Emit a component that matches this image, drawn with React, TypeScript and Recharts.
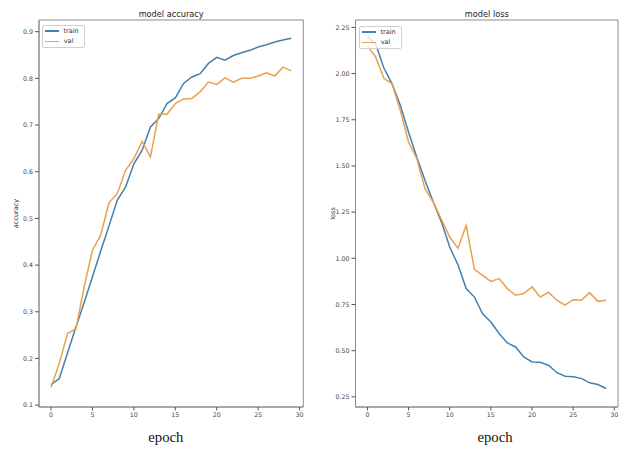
import { LineChart, Line, XAxis, YAxis, Legend, ReferenceArea } from "recharts";

// epochs 0..29
const epochs = [
  0, 1, 2, 3, 4, 5, 6, 7, 8, 9, 10, 11, 12, 13, 14, 15, 16, 17, 18, 19, 20, 21,
  22, 23, 24, 25, 26, 27, 28, 29,
];

const accTrain = [
  0.144, 0.157, 0.212, 0.267, 0.32, 0.375, 0.43, 0.484, 0.539, 0.567, 0.617,
  0.646, 0.696, 0.714, 0.746, 0.758, 0.789, 0.803, 0.81, 0.832, 0.845, 0.839,
  0.849, 0.855, 0.86, 0.867, 0.872, 0.878, 0.882, 0.886,
];
const accVal = [
  0.138, 0.19, 0.254, 0.263, 0.353, 0.432, 0.464, 0.534, 0.553, 0.603, 0.628,
  0.665, 0.632, 0.723, 0.723, 0.746, 0.756, 0.757, 0.771, 0.792, 0.787, 0.801,
  0.792, 0.8, 0.8, 0.805, 0.812, 0.805, 0.824, 0.816,
];

const lossTrain = [
  2.2, 2.16, 2.03, 1.944, 1.827, 1.682, 1.547, 1.421, 1.304, 1.196, 1.061,
  0.965, 0.836, 0.79, 0.7, 0.655, 0.593, 0.542, 0.52, 0.466, 0.439, 0.437,
  0.421, 0.382, 0.362, 0.359, 0.35, 0.326, 0.317, 0.295,
];
const lossVal = [
  2.15, 2.09, 1.975, 1.944, 1.8, 1.628, 1.539, 1.376, 1.304, 1.21, 1.115,
  1.055, 1.178, 0.94, 0.908, 0.875, 0.89, 0.836, 0.8, 0.809, 0.845, 0.79,
  0.816, 0.773, 0.746, 0.776, 0.773, 0.814, 0.767, 0.773,
];

const xTicks = [0, 5, 10, 15, 20, 25, 30];
const accTicks = [0.1, 0.2, 0.3, 0.4, 0.5, 0.6, 0.7, 0.8, 0.9];
const lossTicks = [0.25, 0.5, 0.75, 1.0, 1.25, 1.5, 1.75, 2.0, 2.25];

const accData = epochs.map((e, i) => ({ epoch: e, train: accTrain[i], val: accVal[i] }));
const lossData = epochs.map((e, i) => ({ epoch: e, train: lossTrain[i], val: lossVal[i] }));

const BLUE = "#4181b0";
const ORANGE = "#eba04d";
const FRAME = "#8c8c8c";
const SANS = "'DejaVu Sans', sans-serif";
const X_DOMAIN = [-1.45, 30.45];

const tickStyle = { fill: "#444", fontSize: 6.3, fontFamily: SANS };

const FrameLegend = ({ payload }: any) => (
  <div
    style={{
      border: "1px solid #d0d0d0",
      borderRadius: 2,
      background: "rgba(255,255,255,0.8)",
      padding: "0 5px 0 2px",
      width: 34,
      fontFamily: SANS,
      fontSize: 6.5,
      color: "#333",
    }}
  >
    {(payload || []).map((p: any) => (
      <div key={p.value} style={{ display: "flex", alignItems: "center", height: 10.3 }}>
        <span
          style={{ display: "inline-block", width: 14, height: 1.4, background: p.color, marginRight: 5 }}
        />
        <span>{p.value}</span>
      </div>
    ))}
  </div>
);

const yLabel = (text: string, dx: number) => ({ viewBox }: any) => {
  const x = viewBox.x + dx;
  const y = viewBox.y + viewBox.height / 2;
  return (
    <text
      x={x}
      y={y}
      transform={`rotate(-90, ${x}, ${y})`}
      textAnchor="middle"
      dominantBaseline="central"
      fontSize={6.5}
      fontFamily={SANS}
      fill="#333"
    >
      {text}
    </text>
  );
};

const xLabel = (dx: number) => ({ viewBox }: any) => (
  <text
    x={viewBox.x + viewBox.width / 2 + dx}
    y={viewBox.y + 30}
    textAnchor="middle"
    dominantBaseline="central"
    fontSize={14.7}
    fontFamily="'Liberation Serif', 'Times New Roman', serif"
    fill="#111"
  >
    epoch
  </text>
);

function HistoryPanel({
  left,
  title,
  data,
  yDomain,
  yTicks,
  digits,
  yName,
  yAxisWidth,
  marginLeft,
  marginRight,
  yLabelDx,
  epochDx,
  legendLeft,
  legendTop,
}: any) {
  const plotW = 312 - marginLeft - yAxisWidth - marginRight;
  return (
    <div style={{ position: "absolute", left, top: 0, width: 312, height: 449 }}>
      <LineChart
        width={312}
        height={449}
        data={data}
        margin={{ top: 20, right: marginRight, bottom: 0, left: marginLeft }}
      >
        <XAxis
          dataKey="epoch"
          type="number"
          domain={X_DOMAIN}
          ticks={xTicks}
          allowDataOverflow
          height={42}
          tick={tickStyle}
          tickSize={3.5}
          tickMargin={2}
          tickLine={{ stroke: "#555" }}
          axisLine={{ stroke: FRAME }}
          label={xLabel(epochDx)}
        />
        <YAxis
          type="number"
          domain={yDomain}
          ticks={yTicks}
          allowDataOverflow
          width={yAxisWidth}
          tick={tickStyle}
          tickSize={4}
          tickMargin={2}
          tickLine={{ stroke: "#555" }}
          axisLine={{ stroke: FRAME }}
          tickFormatter={(v: number) => v.toFixed(digits)}
          label={yLabel(yName, yLabelDx)}
        />
        {/* axes frame */}
        <ReferenceArea
          x1={X_DOMAIN[0]}
          x2={X_DOMAIN[1]}
          y1={yDomain[0]}
          y2={yDomain[1]}
          fill="none"
          fillOpacity={0}
          stroke={FRAME}
          strokeWidth={1}
          ifOverflow="visible"
        />
        <Legend
          layout="vertical"
          align="center"
          verticalAlign="middle"
          content={<FrameLegend />}
          wrapperStyle={{ left: legendLeft, top: legendTop, width: "auto" }}
        />
        <Line
          dataKey="train"
          name="train"
          stroke={BLUE}
          strokeWidth={1.5}
          dot={false}
          isAnimationActive={false}
        />
        <Line
          dataKey="val"
          name="val"
          stroke={ORANGE}
          strokeWidth={1.5}
          dot={false}
          isAnimationActive={false}
        />
      </LineChart>
      <div
        style={{
          position: "absolute",
          top: 9,
          left: marginLeft + yAxisWidth,
          width: plotW,
          textAlign: "center",
          fontFamily: SANS,
          fontSize: 8.2,
          lineHeight: "10px",
          color: "#222",
        }}
      >
        {title}
      </div>
    </div>
  );
}

export default function App() {
  return (
    <div
      style={{
        position: "absolute",
        left: 0,
        top: 0,
        width: 624,
        height: 449,
        background: "#fff",
        overflow: "hidden",
      }}
    >
      <HistoryPanel
        left={0}
        title="model accuracy"
        data={accData}
        yDomain={[0.096, 0.925]}
        yTicks={accTicks}
        digits={1}
        yName="accuracy"
        yAxisWidth={36}
        marginLeft={3}
        marginRight={8.7}
        yLabelDx={13}
        epochDx={-5.3}
        legendLeft={41.7}
        legendTop={25}
      />
      <HistoryPanel
        left={312}
        title="model loss"
        data={lossData}
        yDomain={[0.195, 2.29]}
        yTicks={lossTicks}
        digits={2}
        yName="loss"
        yAxisWidth={40}
        marginLeft={3.5}
        marginRight={6}
        yLabelDx={17.5}
        epochDx={8.3}
        legendLeft={46.7}
        legendTop={26}
      />
    </div>
  );
}
